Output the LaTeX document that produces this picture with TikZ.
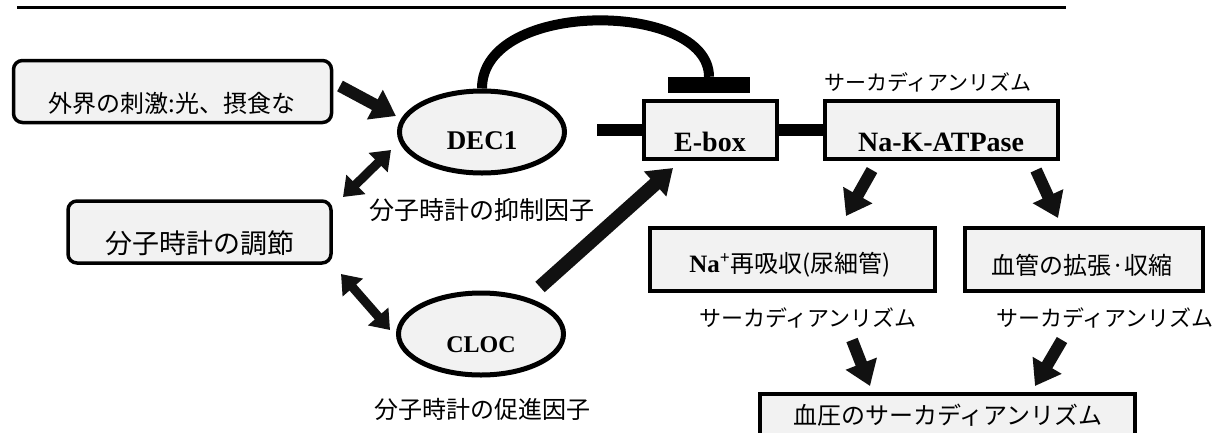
\documentclass[tikz,border=0pt]{standalone}
\usepackage{fontspec}
\setmainfont{Liberation Serif}
\newfontfamily\jpf{Noto Sans CJK JP}
\usetikzlibrary{arrows.meta,shapes.geometric,calc}
\definecolor{boxfill}{HTML}{F2F2F2}
\definecolor{ink}{HTML}{111111}
\begin{document}
\begin{tikzpicture}[x=1pt,y=-1pt,
  rbox/.style={draw, line width=3.5pt, fill=boxfill, rounded corners=9pt, inner sep=0pt},
  sbox/.style={draw, line width=4pt, fill=boxfill, inner sep=0pt},
  ell/.style={draw, line width=5pt, fill=boxfill, ellipse, minimum width=165pt, minimum height=82pt, inner sep=0pt},
  jpbig/.style={font=\jpf\fontsize{27}{27}\selectfont, inner sep=0pt},
  jpbox/.style={font=\jpf\fontsize{24}{24}\selectfont, inner sep=0pt},
  jplab/.style={font=\jpf\fontsize{22}{22}\selectfont, inner sep=0pt},
  lat/.style={font=\bfseries\fontsize{27}{27}\selectfont, inner sep=0pt},
  blk/.style={draw=ink, line width=12pt, -{Triangle[length=24pt,width=32pt]}},
  dbl/.style={draw=ink, line width=9pt, {Triangle[length=18pt,width=26pt]}-{Triangle[length=18pt,width=26pt]}}
]
\fill[white] (0,0) rectangle (1215,432);
\useasboundingbox (0,0) rectangle (1215,432);

% title underline (text above is cut off)
\draw[line width=3pt] (17,7) -- (1066,7);

% left boxes
\node[rbox, minimum width=318pt, minimum height=62pt] (boxA) at (172.5,91.5) {};
\node[jpbox] (tA) at (172,103) {外界の刺激:光、摂食な};
\node[rbox, minimum width=263pt, minimum height=62pt] (boxB) at (199.5,232) {};
\node[jpbig] (tB) at (200,243) {分子時計の調節};

% ellipses
\node[ell] (dec) at (482,132) {};
\node[lat] (tdec) at (482,141) {DEC1};
\node[jplab,font=\jpf\fontsize{25}{25}\selectfont] (ldec) at (482,210) {分子時計の抑制因子};
\node[ell] (cloc) at (481,334) {};
\node[lat,font=\bfseries\fontsize{24}{24}\selectfont] (tcloc) at (481,345) {CLOC};
\node[jplab,font=\jpf\fontsize{24}{24}\selectfont] (lcloc) at (482,409) {分子時計の促進因子};

% E-box and Na-K-ATPase
\node[sbox, minimum width=133pt, minimum height=58pt] (ebox) at (710.5,130) {};
\node[lat,font=\bfseries\fontsize{28}{28}\selectfont] (tebox) at (710,142) {E-box};
\node[sbox, minimum width=233pt, minimum height=58pt] (nak) at (941.5,130) {};
\node[lat,font=\bfseries\fontsize{28}{28}\selectfont] (tnak) at (941,142) {Na-K-ATPase};
\node[jplab,font=\jpf\fontsize{21}{21}\selectfont] (lnak) at (928,82) {サーカディアンリズム};
\node[fill=black, minimum width=82pt, minimum height=16pt, inner sep=0pt] (tbar) at (709,85) {};

\coordinate (stubL) at (597,130);
\draw[line width=12pt] (stubL) -- (ebox.west);
\draw[line width=12pt] (ebox.east) -- (nak.west);

% inhibition arc
\draw[line width=10pt] (dec.north) .. controls ($(dec.north)+(0,-90)$) and ($(tbar.north)+(0,-76)$) .. (tbar.north);

% lower right boxes
\node[sbox, minimum width=285pt, minimum height=63pt] (na) at (792.5,259.5) {};
\node[jpbox] (tna) at (790,265) {{\rmfamily\bfseries\fontsize{25}{25}\selectfont Na\textsuperscript{+}}再吸収(尿細管)};
\node[sbox, minimum width=238pt, minimum height=63pt] (vas) at (1084,259.5) {};
\node[jpbox] (tvas) at (1082,265) {血管の拡張·収縮};
\node[jplab] (lna) at (808,318) {サーカディアンリズム};
\node[jplab] (lvas) at (1105,318) {サーカディアンリズム};
\node[sbox, minimum width=375pt, minimum height=70pt] (bp) at (947.5,429) {};
\node[jpbox] (tbp) at (948,415) {血圧のサーカディアンリズム};

% arrows
\coordinate (a1s) at (340,86);  \coordinate (a1e) at (396,116);
\draw[blk] (a1s) -- (a1e);
\coordinate (d1s) at (343,197); \coordinate (d1e) at (391,150);
\draw[dbl] (d1s) -- (d1e);
\coordinate (d2s) at (341,274); \coordinate (d2e) at (390,330);
\draw[dbl] (d2s) -- (d2e);
\coordinate (c1s) at (540,287); \coordinate (c1e) at (673,168);
\draw[blk,line width=14pt] (c1s) -- (c1e);
\coordinate (n1s) at (872,170); \coordinate (n1e) at (846,216);
\draw[blk] (n1s) -- (n1e);
\coordinate (n2s) at (1036,170); \coordinate (n2e) at (1058,218);
\draw[blk] (n2s) -- (n2e);
\coordinate (b1s) at (852,340); \coordinate (b1e) at (870,386);
\draw[blk] (b1s) -- (b1e);
\coordinate (b2s) at (1062,340); \coordinate (b2e) at (1035,386);
\draw[blk] (b2s) -- (b2e);
\end{tikzpicture}
\end{document}
